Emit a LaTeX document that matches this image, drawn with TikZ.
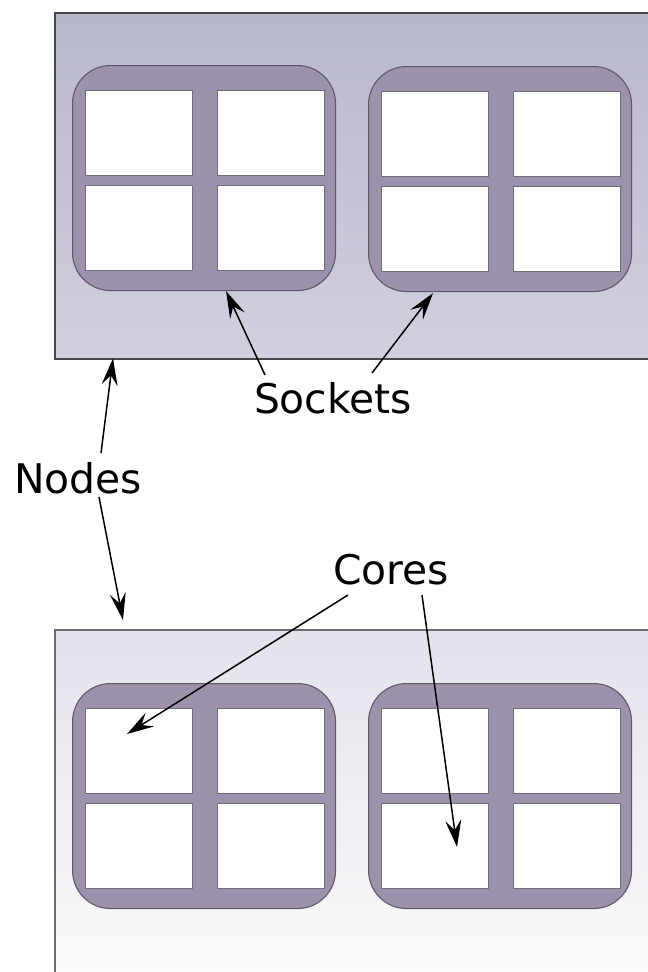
\documentclass[tikz,border=0pt]{standalone}
\usepackage{fontspec}
\setmainfont{DejaVu Sans}
\usetikzlibrary{arrows.meta,calc}

\definecolor{nodeAtop}{RGB}{184,184,203}
\definecolor{nodeAbot}{RGB}{208,208,222}
\definecolor{nodeBtop}{RGB}{226,226,235}
\definecolor{nodeBbot}{RGB}{255,255,255}
\definecolor{sockfill}{RGB}{156,146,172}
\definecolor{frameline}{RGB}{70,70,76}
\definecolor{sockline}{RGB}{95,90,105}
\definecolor{coreline}{RGB}{110,110,118}

\tikzset{
  hostA/.style={draw=frameline, line width=2.4bp, top color=nodeAtop, bottom color=nodeAbot},
  hostB/.style={draw=frameline!80, line width=2.4bp, top color=nodeBtop, bottom color=nodeBbot},
  socketbox/.style={draw=sockline, line width=1.1bp, fill=sockfill, rounded corners=38bp,
    rectangle, minimum width=263bp, minimum height=225bp, anchor=north west, inner sep=0pt},
  corebox/.style={draw=coreline, line width=1.1bp, fill=white, rectangle, anchor=north west,
    minimum width=107bp, minimum height=85bp, inner sep=0pt},
  lbl/.style={font=\fontsize{41}{49}\selectfont, inner sep=0pt},
  arr/.style={line width=1.5bp, -{Stealth[length=27bp, width=16bp, inset=10bp]}},
}

\begin{document}
\begin{tikzpicture}[x=1bp, y=-1bp]
\useasboundingbox (0,0) rectangle (648,972);
\clip (0,0) rectangle (648,972);

% the two host nodes
\node[hostA, rectangle, anchor=north west, minimum width=660bp, minimum height=346bp, inner sep=0pt] (hostTop) at (54,12) {};
\node[hostB, rectangle, anchor=north west, minimum width=660bp, minimum height=400bp, inner sep=0pt] (hostBottom) at (54,629) {};

% sockets with four cores each
\foreach \sid/\sx/\sy in {a/72/65, b/368/66, c/72/683, d/368/683} {
  \node[socketbox] (sock\sid) at (\sx,\sy) {};
  \node[corebox] (sock\sid c1) at ($(\sx,\sy)+(13,25)$) {};
  \node[corebox] (sock\sid c2) at ($(\sx,\sy)+(145,25)$) {};
  \node[corebox] (sock\sid c3) at ($(\sx,\sy)+(13,120)$) {};
  \node[corebox] (sock\sid c4) at ($(\sx,\sy)+(145,120)$) {};
}

% labels
\node[lbl] (sockets) at (333,398) {Sockets};
\node[lbl] (nodes) at (78,478) {Nodes};
\node[lbl] (cores) at (391,570) {Cores};

% arrow end points
\coordinate (sockTipA) at ($(socka.south)+(22,0)$);
\coordinate (sockTipB) at ($(sockb.south)+(-67,1)$);
\coordinate (hostTipTop) at ($(hostTop.south west)+(59,-2)$);
\coordinate (hostTipBottom) at ($(hostBottom.north west)+(69,-9)$);
\coordinate (coreTipA) at ($(sockcc1.north west)+(42,26)$);
\coordinate (coreTipB) at ($(sockdc3.north west)+(76,44)$);

% arrows
\draw[arr] ($(sockets.center)+(-68,-23)$) -- (sockTipA);
\draw[arr] ($(sockets.center)+(39,-25)$) -- (sockTipB);
\draw[arr] ($(nodes.center)+(23,-25)$) -- (hostTipTop);
\draw[arr] ($(nodes.center)+(21,19)$) -- (hostTipBottom);
\draw[arr] ($(cores.center)+(-43,25)$) -- (coreTipA);
\draw[arr] ($(cores.center)+(31,25)$) -- (coreTipB);
\end{tikzpicture}
\end{document}
